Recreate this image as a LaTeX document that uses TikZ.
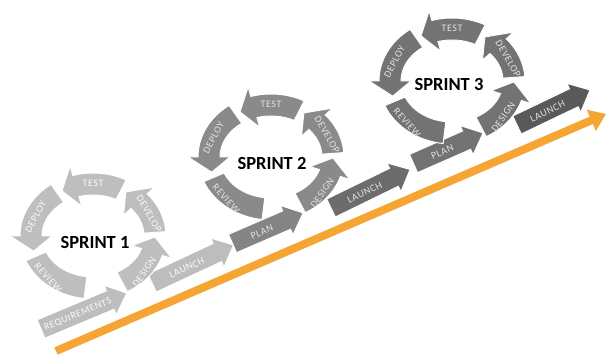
\documentclass[tikz,border=0pt]{standalone}
\usepackage{fontspec}
\setmainfont{Carlito}
\newfontfamily\lblfont[LetterSpace=6]{Carlito}
\usetikzlibrary{arrows.meta}
\definecolor{orng}{HTML}{F5A533}
\definecolor{ringA}{HTML}{BEBEBE}
\definecolor{ringB}{HTML}{8A8A8A}
\definecolor{ringC}{HTML}{737373}
\definecolor{launchA}{HTML}{BDBDBD}
\definecolor{planB}{HTML}{848484}
\definecolor{launchB}{HTML}{6C6C6C}
\definecolor{planC}{HTML}{727272}
\definecolor{launchC}{HTML}{595959}
\definecolor{txtA}{HTML}{FAFAFA}
\definecolor{txtB}{HTML}{E2E2E2}
\tikzset{
  lbl/.style={font=\lblfont\fontsize{10}{11}\selectfont, inner sep=0pt},
  sprinttitle/.style={font=\bfseries\fontsize{18.5}{20}\selectfont, inner sep=0pt, text=black},
  piece/.style={draw=white, line width=1pt, line join=miter},
}
% curved arrow segment: start angle, head base angle, tip angle, colour
\newcommand\ringseg[4]{%
  \path[piece, fill=#4] (#1:73pt and 63pt)
    arc[start angle=#1, end angle=#2, x radius=73pt, y radius=63pt]
    -- (#2:83pt and 73pt) -- (#3:62pt and 52pt) -- (#2:41pt and 31pt) -- (#2:51pt and 41pt)
    arc[start angle=#2, end angle=#1, x radius=51pt, y radius=41pt] -- cycle;}
% curved segment without head
\newcommand\ringtail[3]{%
  \path[piece, fill=#3] (#1:73pt and 63pt)
    arc[start angle=#1, end angle=#2, x radius=73pt, y radius=63pt]
    -- (#2:51pt and 41pt)
    arc[start angle=#2, end angle=#1, x radius=51pt, y radius=41pt] -- cycle;}
% whole sprint ring: centre, colour, text colour, prefix, title, title offset
\newcommand\sprintring[6]{%
  \begin{scope}[shift={#1}]
    \ringseg{298}{342}{359}{#2}
    \ringseg{4}{42}{58}{#2}
    \ringseg{63}{106}{120}{#2}
    \ringseg{125}{180}{197}{#2}
    \ringtail{203}{263}{#2}
    \node[lbl, text=#3] (#4test) at (0,53) {TEST};
    \node[lbl, text=#3, rotate=62] (#4deploy) at (158:62pt and 52pt) {DEPLOY};
    \node[lbl, text=#3, rotate=-48] (#4review) at (228:67pt and 56pt) {REVIEW};
    \node[lbl, text=#3, rotate=55] (#4design) at (320:67pt and 56pt) {DESIGN};
    \node[lbl, text=#3, rotate=-60] (#4develop) at (25:62pt and 52pt) {DEVELOP};
    \node[sprinttitle] (#4title) at #6 {#5};
  \end{scope}}
% straight arrow: name, tail centre, angle, length, colour, text colour, label
\newcommand\flatarrow[7]{%
  \begin{scope}[shift={#2}, rotate=#3]
    \path[piece, fill=#5] (0,10) -- ({#4-18},10) -- ({#4-18},16) -- (#4,0)
      -- ({#4-18},-16) -- ({#4-18},-10) -- (0,-10) -- cycle;
    \node[lbl, text=#6, rotate=#3] (#1) at ({(#4-18)/2+2},-1) {#7};
  \end{scope}}

\begin{document}
\begin{tikzpicture}[x=1pt, y=1pt]
  \useasboundingbox (0,0) rectangle (613,356);
  \fill[white] (0,0) rectangle (613,356);
  % orange trend arrow
  \coordinate (ostart) at (56,5);
  \coordinate (oend) at (606,242);
  \draw[orng, line width=8pt, -{Triangle[length=16pt, width=22pt]}] (ostart) -- (oend);
  % straight arrows
  \flatarrow{req}{(41,27)}{22.7}{93}{launchA}{txtA}{REQUIREMENTS}
  \flatarrow{launchone}{(152,73)}{25}{90}{launchA}{txtA}{LAUNCH}
  \flatarrow{plantwo}{(232.5,112.5)}{23.4}{77}{planB}{txtB}{PLAN}
  \flatarrow{launchtwo}{(331,148)}{26}{88}{launchB}{txtB}{LAUNCH}
  \flatarrow{planthree}{(413.5,192.5)}{23.7}{76}{planC}{txtB}{PLAN}
  \flatarrow{launchthree}{(517,231)}{25.6}{81}{launchC}{txtB}{LAUNCH}
  % sprint rings
  \sprintring{(93,120)}{ringA}{txtA}{a}{SPRINT 1}{(2,-6)}
  \sprintring{(271,199)}{ringB}{txtB}{b}{SPRINT 2}{(1,-6)}
  \sprintring{(452,275)}{ringC}{txtB}{c}{SPRINT 3}{(-3,-4)}
\end{tikzpicture}
\end{document}
